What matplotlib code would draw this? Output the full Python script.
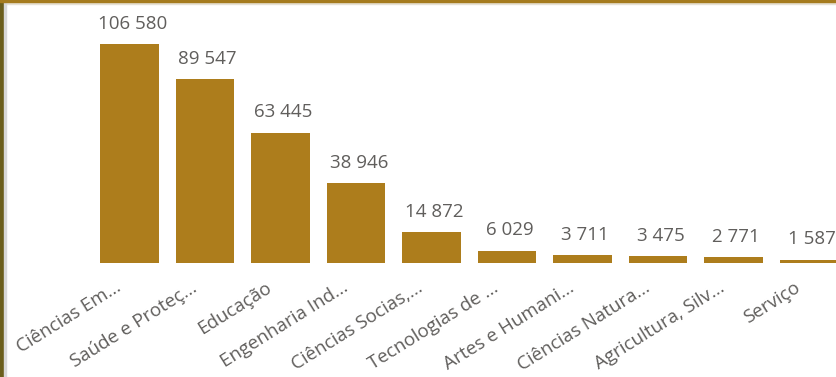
import matplotlib.pyplot as plt
from matplotlib.patches import Rectangle
import matplotlib.transforms as mtransforms

categorias = ['Ciências Em...', 'Saúde e Proteç...', 'Educação', 'Engenharia Ind...',
              'Ciências Socias,...', 'Tecnologias de ...', 'Artes e Humani...',
              'Ciências Natura...', 'Agricultura, Silv...', 'Serviço']
valores = [106580, 89547, 63445, 38946, 14872, 6029, 3711, 3475, 2771, 1587]
rotulos = ['106 580', '89 547', '63 445', '38 946', '14 872',
           '6 029', '3 711', '3 475', '2 771', '1 587']

cor_barra = '#AD7D1C'
cor_texto = '#605E5C'


def run():
    plt.rcParams['font.family'] = ['Open Sans', 'DejaVu Sans']
    fig = plt.figure(figsize=(8.36, 3.77), dpi=100)
    ax = fig.add_axes([0, (377 - 263) / 377, 1, 263 / 377])

    x = list(range(len(valores)))
    ax.bar(x, valores, width=0.78, color=cor_barra)
    ax.set_xlim(-129.5 / 75.5, (836 - 129.5) / 75.5)
    ax.set_ylim(0, 106580 * 263 / 219)

    for xi, v, r in zip(x, valores, rotulos):
        ax.annotate(r, (xi, v), xytext=(2, 11), textcoords='offset points',
                    ha='center', va='baseline', fontsize=13.5, color=cor_texto)

    # rotulos das categorias (inclinados)
    trans = ax.get_xaxis_transform() + mtransforms.ScaledTranslation(
        -10 / 100, -23 / 100, fig.dpi_scale_trans)
    for xi, c in zip(x, categorias):
        ax.text(xi, 0, c, transform=trans, rotation=32, ha='right', va='center',
                rotation_mode='anchor', fontsize=13.5, color=cor_texto, clip_on=False)

    ax.set_xticks([])
    ax.set_yticks([])
    for s in ax.spines.values():
        s.set_visible(False)

    # moldura
    fig.patches.append(Rectangle((0, 0), 4 / 836, 1, transform=fig.transFigure,
                                 color='#6B5E1C', zorder=10))
    fig.patches.append(Rectangle((4 / 836, 0), 1.5 / 836, 1, transform=fig.transFigure,
                                 color='#D8D8D8', zorder=10))
    fig.patches.append(Rectangle((0, 1 - 2 / 377), 1, 2 / 377, transform=fig.transFigure,
                                 color='#A57B1E', zorder=10))
    fig.patches.append(Rectangle((0, 1 - 4 / 377), 1, 2 / 377, transform=fig.transFigure,
                                 color='#E6E1D6', zorder=9))

    fig.savefig('out.png', dpi=100)


if __name__ == '__main__':
    run()
